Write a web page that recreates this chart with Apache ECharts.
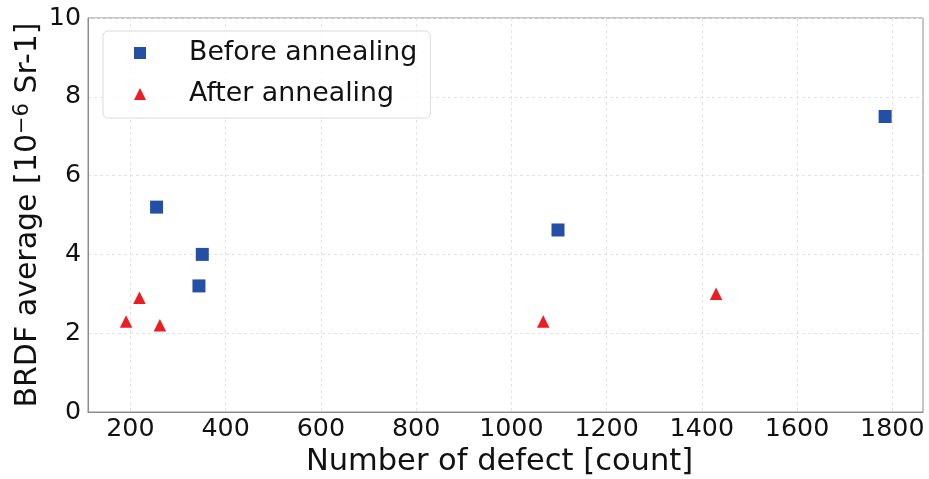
<!DOCTYPE html>
<html>
<head>
<meta charset="utf-8">
<script src="https://cdn.jsdelivr.net/npm/echarts@6/dist/echarts.min.js"></script>
<style>html,body{margin:0;padding:0;background:#fff}#c{width:929px;height:479px}</style>
</head>
<body>
<div id="c"></div>
<script>
// Data
const beforeX = [255, 351, 344, 1098, 1785];
const beforeY = [5.2, 4.0, 3.2, 4.62, 7.5];
const afterX = [191, 219, 262, 1067, 1430];
const afterY = [2.3, 2.9, 2.2, 2.3, 3.0];
const xTicks = [200, 400, 600, 800, 1000, 1200, 1400, 1600, 1800];
const seriesNames = ['Before annealing', 'After annealing'];

const font = 'DejaVu Sans';
const chart = echarts.init(document.getElementById('c'), null, {renderer: 'canvas'});
const zip = (xs, ys) => xs.map((x, i) => [x, ys[i]]);

chart.setOption({
  animation: false,
  backgroundColor: '#fff',
  grid: {left: 88, right: 6, top: 18, bottom: 67, containLabel: false, outerBoundsMode: 'none',
         show: true, borderColor: '#8c8c8c', borderWidth: 1},
  legend: {
    left: 103, top: 31, orient: 'vertical',
    itemWidth: 12, itemHeight: 12, itemGap: 13,
    padding: [8, 13, 10, 31],
    borderColor: '#dcdcdc', borderWidth: 1, borderRadius: 5,
    backgroundColor: 'rgba(255,255,255,0.8)',
    textStyle: {fontFamily: font, fontSize: 26.8, color: '#111', lineHeight: 28, padding: [0, 0, 0, 38]},
    data: [{name: seriesNames[0], icon: 'rect'}, {name: seriesNames[1], icon: 'triangle'}]
  },
  xAxis: {
    type: 'value', min: 111, max: 1864.5,
    name: 'Number of defect [count]', nameLocation: 'middle', nameGap: 35,
    nameTextStyle: {fontFamily: font, fontSize: 30.5, color: '#111', padding: [0, 12, 0, 0]},
    axisLine: {show: true, lineStyle: {color: '#8c8c8c'}},
    axisTick: {show: false, customValues: xTicks},
    axisLabel: {customValues: xTicks, formatter: v => String(v), fontFamily: font, fontSize: 25.3, color: '#111', margin: 5},
    splitLine: {show: true, lineStyle: {color: '#e3e3e3', type: [3, 3], width: 1}}
  },
  yAxis: {
    type: 'value', min: 0, max: 10, interval: 2,
    name: 'BRDF average [10{sup|−6} Sr-1]', nameLocation: 'middle', nameGap: 43, nameMoveOverlap: false,
    nameTextStyle: {fontFamily: font, fontSize: 30, color: '#111',
      rich: {sup: {fontFamily: font, fontSize: 21, color: '#111', verticalAlign: 'top', padding: [0, 0, 12, 0]}}},
    axisLine: {show: true, lineStyle: {color: '#8c8c8c'}},
    axisTick: {show: false},
    axisLabel: {fontFamily: font, fontSize: 25.3, color: '#111', margin: 7},
    splitLine: {show: true, lineStyle: {color: '#e3e3e3', type: [3, 3], width: 1}}
  },
  series: [
    {name: seriesNames[0], type: 'scatter', symbol: 'rect', symbolSize: 13,
     itemStyle: {color: '#2350a5', opacity: 1}, data: zip(beforeX, beforeY)},
    {name: seriesNames[1], type: 'scatter', symbol: 'triangle', symbolSize: 12.5,
     itemStyle: {color: '#ec1c24', opacity: 1}, data: zip(afterX, afterY)}
  ]
});
</script>
</body>
</html>
